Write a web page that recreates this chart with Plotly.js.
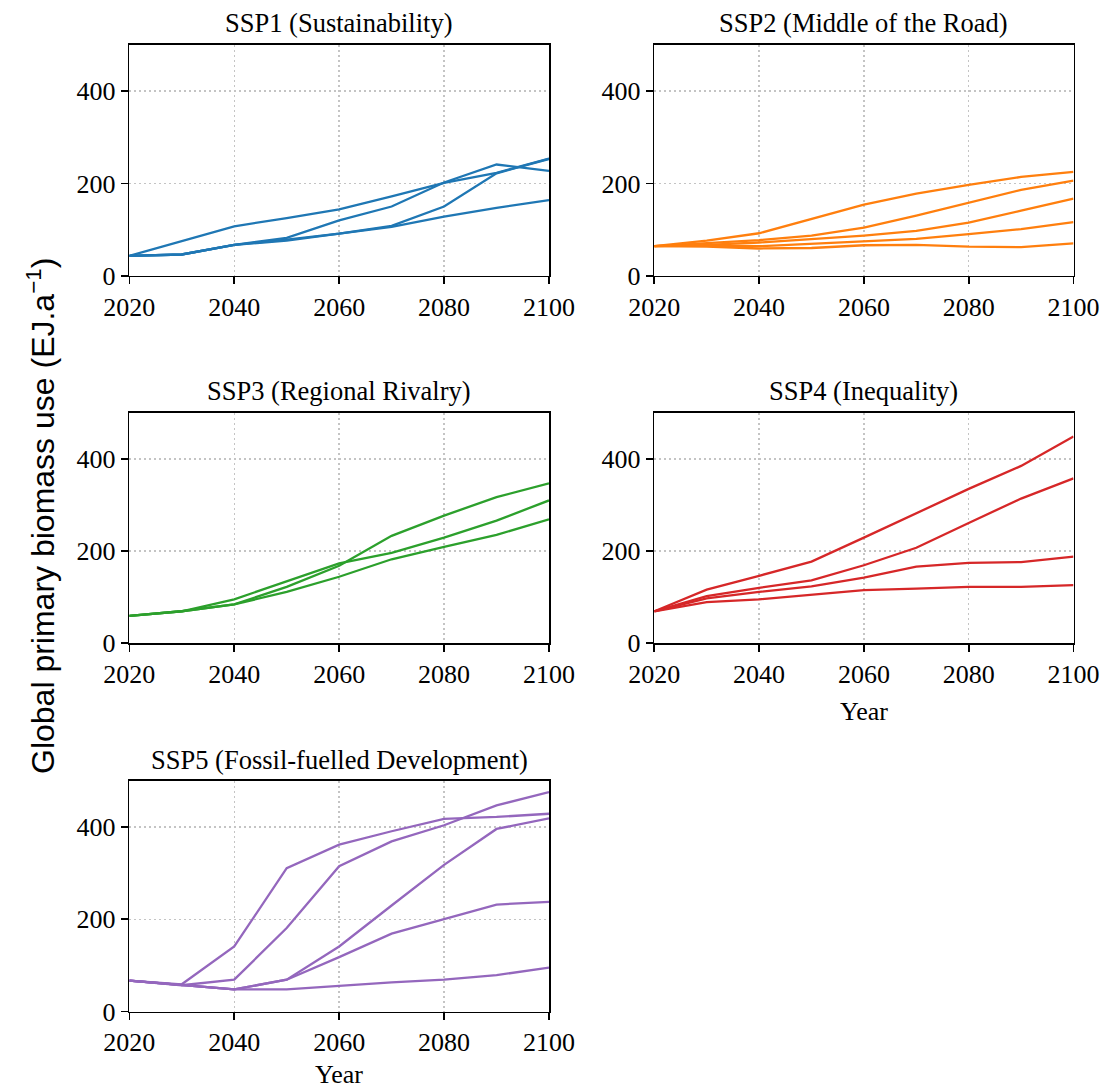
<!DOCTYPE html>
<html>
<head>
<meta charset="utf-8">
<script src="https://cdn.plot.ly/plotly-3.0.1.min.js"></script>
<style>html,body{margin:0;padding:0;background:#fff;}#chart{width:1103px;height:1088px;}</style>
</head>
<body>
<div id="chart"></div>
<script>
// ---- data ----
const years = [2020, 2030, 2040, 2050, 2060, 2070, 2080, 2090, 2100];

const ssp1Series = [
  [43, 75, 107, 125, 144, 172, 201, 223, 254],
  [43, 46, 67, 82, 120, 150, 202, 241, 227],
  [43, 46, 67, 78, 91, 108, 150, 222, 253],
  [43, 46, 67, 76, 91, 106, 128, 147, 164]
];
const ssp2Series = [
  [64, 76, 92, 123, 154, 178, 197, 214, 225],
  [64, 70, 77, 87, 104, 130, 158, 186, 206],
  [64, 67, 72, 79, 87, 97, 115, 141, 167],
  [64, 65, 64, 69, 75, 80, 90, 101, 116],
  [64, 63, 59, 60, 66, 67, 63, 62, 70]
];
const ssp3Series = [
  [59, 69, 95, 134, 173, 196, 229, 266, 310],
  [59, 69, 84, 122, 168, 233, 277, 317, 347],
  [59, 69, 84, 111, 144, 182, 209, 235, 269]
];
const ssp4Series = [
  [69, 116, 146, 177, 229, 282, 335, 385, 449],
  [69, 102, 120, 136, 169, 207, 261, 314, 358],
  [69, 97, 111, 123, 142, 166, 174, 176, 188],
  [69, 89, 95, 105, 115, 118, 122, 122, 126]
];
const ssp5Series = [
  [67, 59, 141, 311, 362, 391, 418, 422, 429],
  [67, 57, 69, 181, 315, 369, 404, 447, 476],
  [67, 57, 48, 69, 141, 230, 318, 396, 419],
  [67, 57, 48, 69, 118, 169, 201, 232, 238],
  [67, 57, 48, 48, 56, 63, 69, 79, 95]
];

const panelTitles = [
  "SSP1 (Sustainability)",
  "SSP2 (Middle of the Road)",
  "SSP3 (Regional Rivalry)",
  "SSP4 (Inequality)",
  "SSP5 (Fossil-fuelled Development)"
];
const panelColors = ["#1f77b4", "#ff7f0e", "#2ca02c", "#d62728", "#9467bd"];
const xTicks = [2020, 2040, 2060, 2080, 2100];
const yTicks = [0, 200, 400];
const xLabel = "Year";
const yLabel = "Global primary biomass use (EJ.a<sup>\u22121</sup>)";

// ---- layout geometry ----
const W = 1103, H = 1088;
const colX = [[129.3, 549], [654.3, 1073.5]];
const rowY = [[45, 275.7], [413, 643], [781, 1011.5]];
const panelPos = [[0, 0], [1, 0], [0, 1], [1, 1], [0, 2]];
const titleY = [23, 391, 760];

const allSeries = [ssp1Series, ssp2Series, ssp3Series, ssp4Series, ssp5Series];
const serif = "'Liberation Serif', 'Times New Roman', serif";

const traces = [];
const layout = {
  width: W, height: H,
  margin: {l: 0, r: 0, t: 0, b: 0},
  paper_bgcolor: "#ffffff",
  plot_bgcolor: "#ffffff",
  showlegend: false,
  font: {family: serif, size: 26, color: "#000"},
  annotations: []
};

allSeries.forEach((series, i) => {
  const n = i + 1;
  const xa = n === 1 ? "x" : "x" + n;
  const ya = n === 1 ? "y" : "y" + n;
  series.forEach(vals => {
    traces.push({
      type: "scatter", mode: "lines",
      x: years, y: vals,
      xaxis: xa, yaxis: ya,
      line: {color: panelColors[i], width: 2.3},
      hoverinfo: "skip"
    });
  });
  const [c, r] = panelPos[i];
  const xd = [colX[c][0] / W, colX[c][1] / W];
  const yd = [(H - rowY[r][1]) / H, (H - rowY[r][0]) / H];
  const common = {
    showline: true, mirror: true, linecolor: "#000", linewidth: 1.7,
    ticks: "outside", ticklen: 7, tickwidth: 1.6, tickcolor: "#000",
    showgrid: true, gridcolor: "#c4c4c4", gridwidth: 1.3, griddash: "1.5px,3.5px",
    zeroline: false,
    tickfont: {family: serif, size: 26, color: "#000"},
    fixedrange: true
  };
  layout["xaxis" + (n === 1 ? "" : n)] = Object.assign({}, common, {
    domain: xd, anchor: ya, range: [2020, 2100],
    tickmode: "array", tickvals: xTicks, ticktext: xTicks.map(String)
  });
  layout["yaxis" + (n === 1 ? "" : n)] = Object.assign({}, common, {
    domain: yd, anchor: xa, range: [0, 500],
    tickmode: "array", tickvals: yTicks, ticktext: yTicks.map(String)
  });
  layout.annotations.push({
    text: panelTitles[i], xref: "paper", yref: "paper",
    x: (xd[0] + xd[1]) / 2, y: 1 - titleY[r] / H,
    xanchor: "center", yanchor: "middle", showarrow: false,
    font: {family: serif, size: 26.5, color: "#000"}
  });
});

// x-axis titles (only bottom panels of each column)
layout.annotations.push({
  text: xLabel, xref: "paper", yref: "paper",
  x: (colX[1][0] + colX[1][1]) / 2 / W, y: 1 - 711 / H,
  xanchor: "center", yanchor: "middle", showarrow: false,
  font: {family: serif, size: 26, color: "#000"}
});
layout.annotations.push({
  text: xLabel, xref: "paper", yref: "paper",
  x: (colX[0][0] + colX[0][1]) / 2 / W, y: 1 - 1074 / H,
  xanchor: "center", yanchor: "middle", showarrow: false,
  font: {family: serif, size: 26, color: "#000"}
});
// shared y-axis title
layout.annotations.push({
  text: yLabel, xref: "paper", yref: "paper",
  x: 41 / W, y: 1 - 516 / H, textangle: -90,
  xanchor: "center", yanchor: "middle", showarrow: false,
  font: {family: "'Liberation Sans', Arial, sans-serif", size: 32, color: "#000"}
});

Plotly.newPlot("chart", traces, layout, {staticPlot: true, displayModeBar: false});
</script>
</body>
</html>
